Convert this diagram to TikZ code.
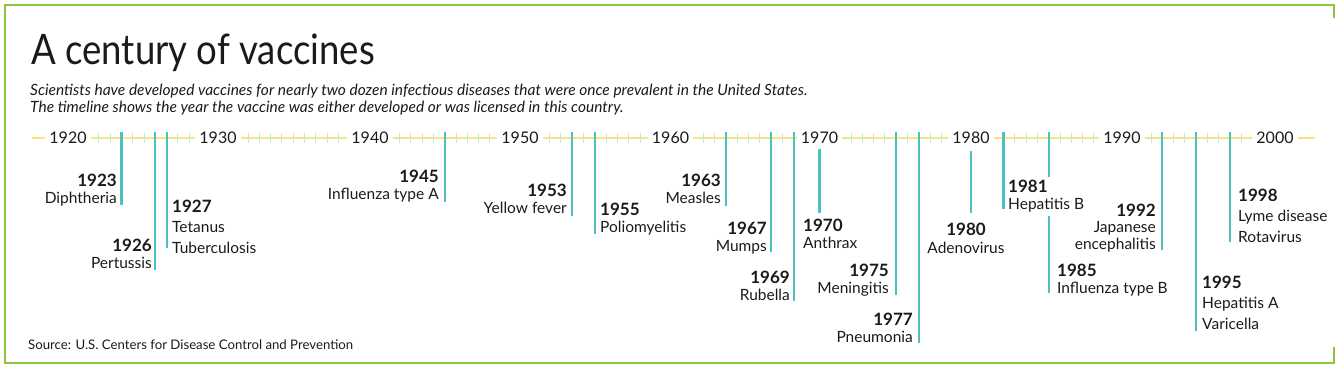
\documentclass[tikz,border=0pt]{standalone}
\usepackage{fontspec}
\setmainfont{Lato}
\newfontfamily\titlefont[FakeStretch=0.87]{Lato}
\usetikzlibrary{positioning}

\definecolor{framegreen}{HTML}{8CC63F}
\definecolor{axisyellow}{HTML}{FBE27C}
\definecolor{tickteal}{HTML}{BFE6E3}
\definecolor{vaxteal}{HTML}{4CC1C2}
\definecolor{inkblack}{HTML}{1A1A1A}

\newcommand{\vyear}[1]{{\fontsize{17}{16.5}\selectfont\bfseries #1}}

\begin{document}
\begin{tikzpicture}[x=1pt, y=-1pt, inner sep=0pt, text=inkblack,
    decade/.style={fill=white, inner xsep=4pt, inner ysep=2pt,
      font=\fontsize{16}{16}\selectfont},
    vaxline/.style={draw=vaxteal, line width=2.2pt},
    yeartick/.style={draw=tickteal, line width=0.9pt},
    leftlabel/.style={anchor=base east, align=right,
      font=\fontsize{15.5}{16.5}\selectfont},
    rightlabel/.style={anchor=base west, align=left,
      font=\fontsize{15.5}{16.5}\selectfont},
    widelabel/.style={font=\fontsize{15.5}{20.5}\selectfont}]
  \useasboundingbox (0,0) rectangle (1341,367);
  % Frame
  \draw[framegreen, line width=2pt] (1334,18) -- (1334,4.5) -- (4.5,4.5)
    -- (4.5,363) -- (1334,363) -- (1334,347);
  % Heading
  \node[anchor=base west, font=\fontsize{42}{42}\selectfont\titlefont] (title)
    at (31,64) {A century of vaccines};
  \node[anchor=base west, align=left, font=\fontsize{15.5}{17}\selectfont\itshape]
    (subtitle) at (30,112) {Scientists have developed vaccines for nearly two
    dozen infectious diseases that were once prevalent in the United States.\\
    The timeline shows the year the vaccine was either developed or was
    licensed in this country.};
  \node[anchor=base west, font=\fontsize{13.2}{13.2}\selectfont] (source)
    at (28,349) {Source: U.S. Centers for Disease Control and Prevention};
  % Axis
  \draw[axisyellow, line width=2pt] (32,138) -- (1315,138);
  \foreach \dec/\fx in {1920/98.8, 1930/248, 1940/399.5, 1950/549.6,
      1960/703.4, 1970/851, 1980/1003.5, 1990/1151}{
    \foreach \n in {1,...,9}{
      \pgfmathtruncatemacro\yr{\dec+\n}
      \coordinate (t\yr) at (\fx+11.3*\n-11.3, 138);
      \draw[yeartick] (t\yr) ++(0,-5) -- ++(0,10);
    }
  }
  \foreach \dec/\lx in {1920/68, 1930/218, 1940/370, 1950/520, 1960/670.5,
      1970/819.5, 1980/971, 1990/1122, 2000/1275}{
    \coordinate (t\dec) at (\lx,138);
    \node[decade] (d\dec) at (t\dec) {\dec};
  }
  % Vaccines (placed at the baseline of their last line)
  \node[leftlabel] (v1923) at (117,203) {\vyear{1923}\\Diphtheria};
  \node[leftlabel] (v1926) at (152,268) {\vyear{1926}\\Pertussis};
  \node[rightlabel, widelabel] (v1927) at (172,253)
    {\vyear{1927}\\Tetanus\\Tuberculosis};
  \node[leftlabel] (v1945) at (439,199) {\vyear{1945}\\Influenza type A};
  \node[leftlabel] (v1953) at (567,213) {\vyear{1953}\\Yellow fever};
  \node[rightlabel] (v1955) at (600,232) {\vyear{1955}\\Poliomyelitis};
  \node[leftlabel] (v1963) at (721,203) {\vyear{1963}\\Measles};
  \node[leftlabel] (v1967) at (767,251) {\vyear{1967}\\Mumps};
  \node[leftlabel] (v1969) at (790,300) {\vyear{1969}\\Rubella};
  \node[rightlabel] (v1970) at (803,248) {\vyear{1970}\\Anthrax};
  \node[leftlabel] (v1975) at (889,293) {\vyear{1975}\\Meningitis};
  \node[leftlabel] (v1977) at (913,342) {\vyear{1977}\\Pneumonia};
  \node[leftlabel, anchor=base, align=center,
    font=\fontsize{15.5}{18}\selectfont] (v1980) at (966,253)
    {\vyear{1980}\\Adenovirus};
  \node[rightlabel] (v1981) at (1008,209) {\vyear{1981}\\Hepatitis B};
  \node[rightlabel] (v1985) at (1057,293) {\vyear{1985}\\Influenza type B};
  \node[leftlabel] (v1992) at (1156,249) {\vyear{1992}\\Japanese\\encephalitis};
  \node[rightlabel, widelabel] (v1995) at (1202,329)
    {\vyear{1995}\\Hepatitis A\\Varicella};
  \node[rightlabel, widelabel] (v1998) at (1238,242)
    {\vyear{1998}\\Lyme disease\\Rotavirus};
  % Lines
  \foreach \yr/\top/\bot in {1923/132/205, 1926/132/270, 1927/132/248,
      1945/132/202, 1953/132/216, 1955/132/234, 1963/132/206, 1967/132/252,
      1969/132/301, 1970/149/213, 1975/132/295, 1977/132/343, 1980/151/213,
      1981/132/209, 1985/132/177, 1985/216/293, 1992/132/250, 1995/132/331,
      1998/132/242}
    \draw[vaxline] (t\yr |- 0,\top) -- (t\yr |- 0,\bot);
\end{tikzpicture}
\end{document}
